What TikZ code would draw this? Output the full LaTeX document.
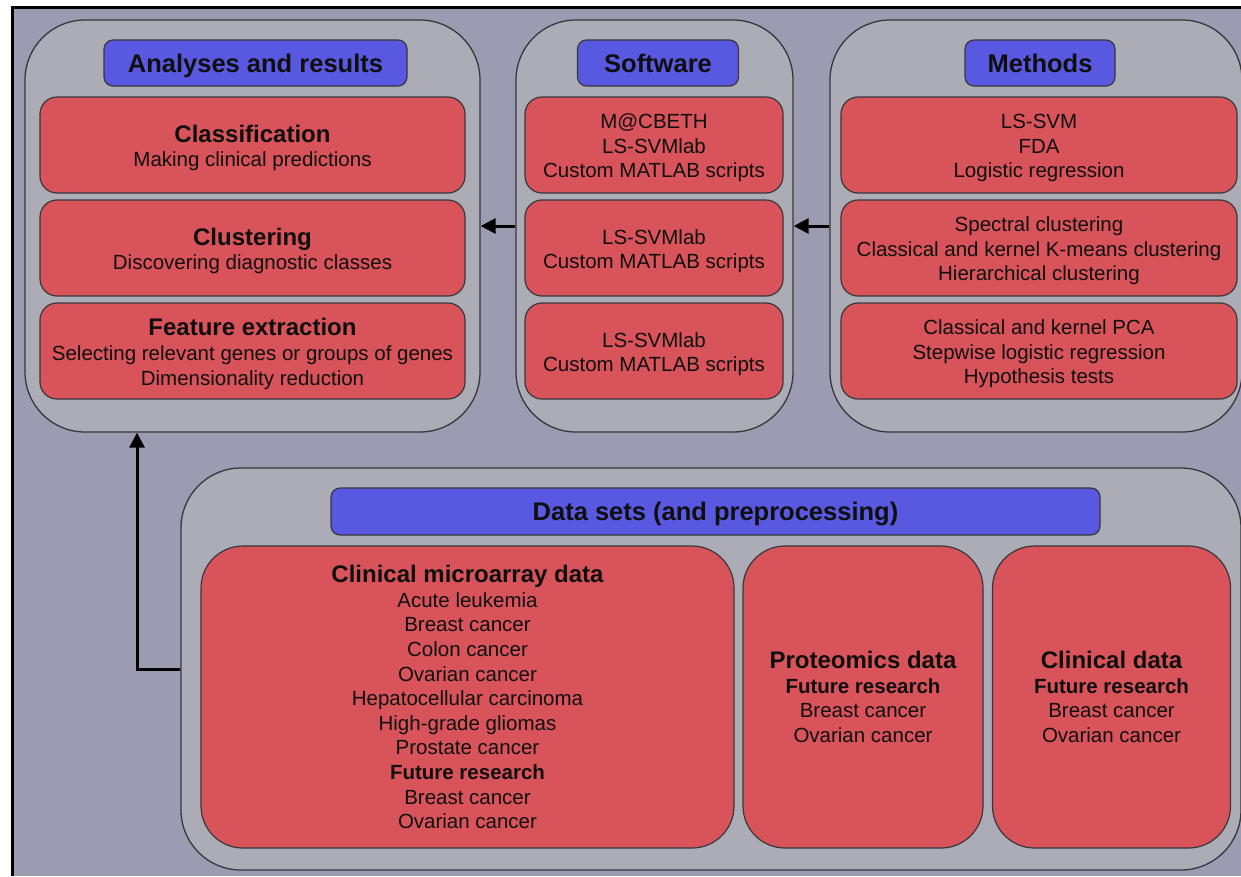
\documentclass[tikz,border=0pt]{standalone}
\usepackage{fontspec}
\setmainfont{Liberation Sans}
\usetikzlibrary{arrows.meta}
\definecolor{bgc}{RGB}{155,155,178}
\definecolor{panelc}{RGB}{172,172,182}
\definecolor{redc}{RGB}{217,84,90}
\definecolor{bluec}{RGB}{88,88,224}
\definecolor{edgec}{RGB}{55,55,60}
\definecolor{txtc}{RGB}{15,15,15}
\newcommand{\hdf}{\fontsize{24}{27}\selectfont\bfseries}
\newcommand{\bdf}{\fontsize{20.5}{24.6}\selectfont}
\begin{document}
\begin{tikzpicture}[x=1pt,y=-1pt,
  panel/.style={draw=edgec, line width=1.3pt, fill=panelc, rounded corners=60pt, inner sep=0pt},
  titlebox/.style={draw=edgec, line width=1.2pt, fill=bluec, rounded corners=9pt, inner sep=0pt, text=txtc, text height=21pt, text depth=3pt, font=\fontsize{25.5}{30}\selectfont\bfseries},
  redbox/.style={draw=edgec, line width=1.2pt, fill=redc, rounded corners=17pt, inner sep=0pt},
  bigred/.style={redbox, rounded corners=42pt},
  lbl/.style={inner sep=0pt, align=center, text=txtc, font=\bdf},
  conn/.style={line width=3pt, black, -{Triangle[length=15pt,width=15pt]}}
]
\useasboundingbox (0,0) rectangle (1241,876);
\fill[white] (0,0) rectangle (1241,876);
\fill[bgc] (12,8) rectangle (1241,876);
\draw[line width=3pt] (12,876) -- (12,7.5) -- (1241,7.5);

% top panels
\node[panel, minimum width=455pt, minimum height=412pt] (ana) at (252.5,226) {};
\node[panel, minimum width=277pt, minimum height=412pt] (sw) at (654.5,226) {};
\node[panel, minimum width=412pt, minimum height=412pt] (met) at (1036,226) {};

% titles
\node[titlebox, minimum width=303pt, minimum height=46pt] (anat) at (255.5,63) {Analyses and results};
\node[titlebox, minimum width=161pt, minimum height=46pt] (swt) at (658,63) {Software};
\node[titlebox, minimum width=150pt, minimum height=46pt] (mett) at (1040,63) {Methods};

% analyses boxes
\node[redbox, minimum width=425pt, minimum height=96pt] (cls) at (252.5,145) {};
\node[redbox, minimum width=425pt, minimum height=96pt] (clu) at (252.5,248) {};
\node[redbox, minimum width=425pt, minimum height=96pt] (fex) at (252.5,351) {};
\node[lbl] (clsT) at ([yshift=-3pt]cls.center) {{\hdf Classification}\\Making clinical predictions};
\node[lbl] (cluT) at ([yshift=-3pt]clu.center) {{\hdf Clustering}\\Discovering diagnostic classes};
\node[lbl] (fexT) at ([yshift=-3pt]fex.center) {{\hdf Feature extraction}\\Selecting relevant genes or groups of genes\\Dimensionality reduction};

% software boxes
\node[redbox, minimum width=258pt, minimum height=96pt] (sw1) at (654,145) {};
\node[redbox, minimum width=258pt, minimum height=96pt] (sw2) at (654,248) {};
\node[redbox, minimum width=258pt, minimum height=96pt] (sw3) at (654,351) {};
\node[lbl] (sw1T) at ([yshift=-3pt]sw1.center) {M@CBETH\\LS-SVMlab\\Custom MATLAB scripts};
\node[lbl] (sw2T) at ([yshift=-3pt]sw2.center) {LS-SVMlab\\Custom MATLAB scripts};
\node[lbl] (sw3T) at ([yshift=-3pt]sw3.center) {LS-SVMlab\\Custom MATLAB scripts};

% methods boxes
\node[redbox, minimum width=396pt, minimum height=96pt] (m1) at (1039,145) {};
\node[redbox, minimum width=396pt, minimum height=96pt] (m2) at (1039,248) {};
\node[redbox, minimum width=396pt, minimum height=96pt] (m3) at (1039,351) {};
\node[lbl] (m1T) at ([yshift=-3pt]m1.center) {LS-SVM\\FDA\\Logistic regression};
\node[lbl] (m2T) at ([yshift=-3pt]m2.center) {Spectral clustering\\Classical and kernel K-means clustering\\Hierarchical clustering};
\node[lbl] (m3T) at ([yshift=-3pt]m3.center) {Classical and kernel PCA\\Stepwise logistic regression\\Hypothesis tests};

% data panel
\node[panel, minimum width=1060pt, minimum height=402pt] (data) at (711,669) {};
\node[titlebox, minimum width=769pt, minimum height=47pt] (datat) at (715.5,511.5) {Data sets (and preprocessing)};

\node[bigred, minimum width=533pt, minimum height=302pt] (mic) at (467.5,697) {};
\node[bigred, minimum width=240pt, minimum height=302pt] (pro) at (863,697) {};
\node[bigred, minimum width=238pt, minimum height=302pt] (cli) at (1111.5,697) {};
\node[lbl] (micT) at (mic.center) {{\hdf Clinical microarray data}\\Acute leukemia\\Breast cancer\\Colon cancer\\Ovarian cancer\\Hepatocellular carcinoma\\High-grade gliomas\\Prostate cancer\\\textbf{Future research}\\Breast cancer\\Ovarian cancer};
\node[lbl] (proT) at (pro.center) {{\hdf Proteomics data}\\\textbf{Future research}\\Breast cancer\\Ovarian cancer};
\node[lbl] (cliT) at (cli.center) {{\hdf Clinical data}\\\textbf{Future research}\\Breast cancer\\Ovarian cancer};

% connectors
\draw[conn] (sw.west) -- (ana.east);
\draw[conn] (met.west) -- (sw.east);
\coordinate (bend) at (137,669);
\draw[conn] (data.west) -- (bend) -- (bend |- ana.south);
\end{tikzpicture}
\end{document}
